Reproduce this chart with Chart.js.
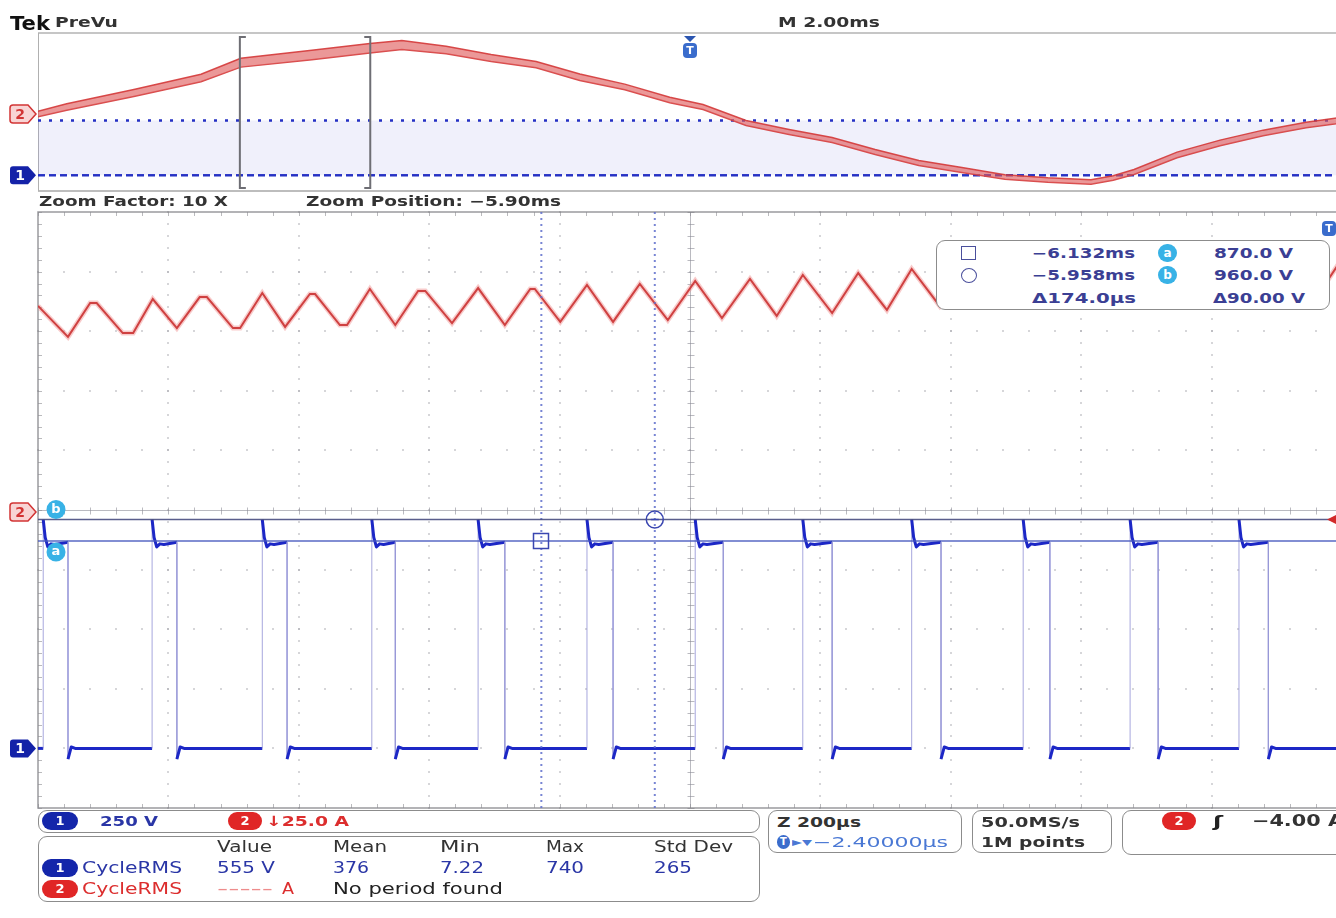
<!DOCTYPE html>
<html>
<head>
<meta charset="utf-8">
<title>Tek PreVu</title>
<script src="https://cdn.jsdelivr.net/npm/chart.js@4.4.1/dist/chart.umd.min.js"></script>
<style>
html,body{margin:0;padding:0;background:#fff;}
body{width:1336px;height:918px;overflow:hidden;position:relative;font-family:"DejaVu Sans",sans-serif;}
canvas{position:absolute;left:0;}
#ov{top:0;}
#zm{top:205px;}
.t{position:absolute;white-space:nowrap;transform-origin:0 50%;line-height:1;}
.box{position:absolute;border:1.5px solid #8c8c8c;border-radius:9px;background:#fff;box-sizing:border-box;}
.pill{position:absolute;color:#fff;font-weight:bold;font-family:"DejaVu Sans";text-align:center;box-sizing:border-box;}
</style>
</head>
<body>
<canvas id="ov" width="1350" height="196"></canvas>
<canvas id="zm" width="1350" height="610"></canvas>
<script>
// ---------------- scope settings ----------------
const OVERVIEW_RANGE_MS = [-10, 10];          // M 2.00ms/div, 10 div
const ZOOM_RANGE_MS = [-6.904, -4.904];       // Z 200us/div, zoom position -5.90ms
const CH1_VOLTS_PER_DIV = 250, CH1_POSITION_DIV = -4.0;
const CH2_AMPS_PER_DIV = 25,  CH2_POSITION_DIV = 0.0;
const TRIG_LEVEL_A = -4.00;

// ---------------- overview (ch2 current, 20 ms record) ----------------
const ovTimeMs   = [-10.00,-9.56,-8.53,-7.50,-6.89,-5.80,-4.91,-4.42,-3.74,-3.05,-2.36,-1.69,-1.00,-0.31,0.20,0.86,1.52,2.18,2.84,3.51,4.17,4.83,5.49,6.15,6.49,6.81,7.47,8.13,8.79,9.45,10.00];
const ovCurrentA = [-3.2,7.9,30.1,53.8,78.0,90.2,101.0,106.0,98.1,85.4,75.0,55.0,39.6,19.0,7.9,-17.4,-31.6,-44.3,-63.3,-80.7,-91.8,-102.8,-107.6,-110.7,-104.4,-94.9,-68.0,-49.0,-33.2,-20.6,-12.7];
const ovRippleA  = [9,10,11,12,14,15,15,14,12,11,10,10,9,9,8,8,8,8,8,8,8,7,7,7,7,8,9,9,9,9,9];
// ch1 levels (V)
const ch1HighV = 865, ch1LowV = 0;

// ---------------- zoom window ----------------
const ch2ZoomMs = [-6.904,-6.858,-6.824,-6.814,-6.774,-6.758,-6.728,-6.691,-6.656,-6.645,-6.605,-6.594,-6.560,-6.525,-6.487,-6.479,-6.441,-6.430,-6.395,-6.356,-6.321,-6.310,-6.269,-6.229,-6.188,-6.149,-6.142,-6.103,-6.062,-6.022,-5.981,-5.938,-5.896,-5.855,-5.812,-5.771,-5.731,-5.686,-5.646,-5.602,-5.564,-5.521,-5.481,-5.438,-5.398,-5.355,-5.314,-5.271,-5.231,-5.188,-5.146,-5.103,-5.064,-5.021,-4.981,-4.938,-4.898];
const ch2ZoomA  = [85.6,72.6,86.8,86.8,74.2,74.2,88.5,76.3,89.3,89.3,76.3,76.3,91.0,76.8,90.6,90.6,77.6,77.6,92.7,77.6,91.9,91.9,78.4,93.1,77.6,92.7,92.7,78.9,94.4,78.9,94.8,79.7,96.1,80.5,96.9,81.4,98.6,82.6,99.4,83.9,101.1,85.6,101.9,86.4,102.8,87.2,103.6,88.1,104.4,88.9,105.3,89.8,106.1,90.6,107.0,91.4,107.8];
const ch1RiseMs = [-6.896,-6.729,-6.560,-6.392,-6.229,-6.062,-5.896,-5.731,-5.564,-5.393,-5.229,-5.062];
const ch1FallMs = [-6.858,-6.691,-6.522,-6.356,-6.188,-6.022,-5.853,-5.686,-5.519,-5.352,-5.186,-5.017];
const ch1HighShapeDt = [0, 0.003, 0.007, 0.012, 0.018];
const ch1HighShapeV  = [960, 885, 845, 858, 855];
const ch1LowShapeDt  = [0, 0.005, 0.011];
const ch1LowShapeV   = [-45, 6, 0];
// cursors
const cursorTimeMs = [-6.132, -5.958];
const cursorVolts  = [870, 960];

// ---------------- derived axis ranges ----------------
const ch1Min = (-5 - CH1_POSITION_DIV) * CH1_VOLTS_PER_DIV, ch1Max = (5 - CH1_POSITION_DIV) * CH1_VOLTS_PER_DIV;
const ch2Min = (-5 - CH2_POSITION_DIV) * CH2_AMPS_PER_DIV,  ch2Max = (5 - CH2_POSITION_DIV) * CH2_AMPS_PER_DIV;

const BLUE = '#1c27c6', BLUE_EDGE = 'rgba(150,150,215,0.85)';
const RED = 'rgba(206,58,58,0.95)', RED_HALO = 'rgba(240,140,140,0.45)';

function buildCh1() {
  const pts = [{x: ZOOM_RANGE_MS[0], y: ch1LowV}];
  const ev = ch1RiseMs.map(t => ({t, r: true})).concat(ch1FallMs.map(t => ({t, r: false}))).sort((a, b) => a.t - b.t);
  let level = ch1LowV;
  ev.forEach(e => {
    pts.push({x: e.t, y: level});
    const dt = e.r ? ch1HighShapeDt : ch1LowShapeDt, v = e.r ? ch1HighShapeV : ch1LowShapeV;
    dt.forEach((d, i) => pts.push({x: e.t + d, y: v[i]}));
    level = e.r ? ch1HighV : ch1LowV;
  });
  pts.push({x: ZOOM_RANGE_MS[1], y: level});
  return pts;
}

// ---------------- drawing helpers ----------------
function chMarker(ctx, x, y, label, fill, stroke, textColor) {
  const w = 26, h = 18, r = 3;
  ctx.save();
  ctx.beginPath();
  ctx.moveTo(x + r, y - h / 2); ctx.lineTo(x + w - 8, y - h / 2); ctx.lineTo(x + w, y);
  ctx.lineTo(x + w - 8, y + h / 2); ctx.lineTo(x + r, y + h / 2);
  ctx.quadraticCurveTo(x, y + h / 2, x, y + h / 2 - r); ctx.lineTo(x, y - h / 2 + r);
  ctx.quadraticCurveTo(x, y - h / 2, x + r, y - h / 2); ctx.closePath();
  ctx.fillStyle = fill; ctx.fill();
  if (stroke) { ctx.strokeStyle = stroke; ctx.lineWidth = 1.5; ctx.stroke(); }
  ctx.fillStyle = textColor; ctx.font = 'bold 14px "DejaVu Sans"';
  ctx.textAlign = 'center'; ctx.textBaseline = 'middle';
  ctx.fillText(label, x + 10, y + 1);
  ctx.restore();
}
function tMarker(ctx, x, y, arrow) {
  ctx.save();
  if (arrow) {
    ctx.fillStyle = '#2a55b0';
    ctx.beginPath(); ctx.moveTo(x - 6, y); ctx.lineTo(x + 6, y); ctx.lineTo(x, y + 6); ctx.fill();
    y += 7;
  }
  ctx.fillStyle = '#3a6ccc';
  ctx.beginPath();
  if (ctx.roundRect) ctx.roundRect(x - 7, y, 14, 15, 4); else ctx.rect(x - 7, y, 14, 15);
  ctx.fill();
  ctx.fillStyle = '#fff'; ctx.font = 'bold 11px "DejaVu Sans"';
  ctx.textAlign = 'center'; ctx.textBaseline = 'middle';
  ctx.fillText('T', x, y + 8);
  ctx.restore();
}
function cursorLabel(ctx, x, y, s) {
  ctx.save();
  ctx.fillStyle = '#38b2e6';
  ctx.beginPath(); ctx.arc(x, y, 9.5, 0, Math.PI * 2); ctx.fill();
  ctx.fillStyle = '#fff'; ctx.font = 'bold 13px "DejaVu Sans"';
  ctx.textAlign = 'center'; ctx.textBaseline = 'middle';
  ctx.fillText(s, x, y);
  ctx.restore();
}

// ---------------- overview chart ----------------
const ovPlugin = {
  id: 'ovdeco',
  beforeDatasetsDraw(chart) {
    const {ctx, chartArea: a} = chart;
    ctx.save();
    ctx.strokeStyle = '#c6c6c6'; ctx.lineWidth = 2;
    ctx.beginPath(); ctx.moveTo(a.left, a.top); ctx.lineTo(1350, a.top); ctx.stroke();
    ctx.strokeStyle = '#bdbdbd';
    ctx.beginPath(); ctx.moveTo(a.left, a.bottom); ctx.lineTo(1350, a.bottom); ctx.stroke();
    ctx.strokeStyle = '#b0b0b0'; ctx.lineWidth = 1;
    ctx.beginPath(); ctx.moveTo(a.left + 0.5, a.top); ctx.lineTo(a.left + 0.5, a.bottom); ctx.stroke();
    ctx.restore();
  },
  afterDatasetsDraw(chart) {
    const {ctx, chartArea: a, scales} = chart;
    const xl = scales.x.getPixelForValue(ZOOM_RANGE_MS[0]);
    const xr = scales.x.getPixelForValue(ZOOM_RANGE_MS[1]);
    ctx.save();
    ctx.strokeStyle = '#6e6e74'; ctx.lineWidth = 2;
    ctx.beginPath();
    ctx.moveTo(xl + 6, a.top + 4); ctx.lineTo(xl, a.top + 4); ctx.lineTo(xl, a.bottom - 3); ctx.lineTo(xl + 6, a.bottom - 3);
    ctx.moveTo(xr - 6, a.top + 4); ctx.lineTo(xr, a.top + 4); ctx.lineTo(xr, a.bottom - 3); ctx.lineTo(xr - 6, a.bottom - 3);
    ctx.stroke();
    ctx.restore();
  },
  afterDraw(chart) {
    const {ctx, chartArea: a, scales} = chart;
    chMarker(ctx, 10, scales.y2.getPixelForValue(0) + 2, '2', '#f8d4d4', '#d23434', '#d23434');
    chMarker(ctx, 10, scales.y1.getPixelForValue(0), '1', '#1422a8', null, '#fff');
    tMarker(ctx, scales.x.getPixelForValue(0), a.top + 3, true);
  }
};

new Chart(document.getElementById('ov'), {
  type: 'line',
  data: {
    datasets: [
      { data: ovTimeMs.map((t, i) => ({x: t, y: ovCurrentA[i] + ovRippleA[i] / 2})), yAxisID: 'y2',
        borderColor: 'rgba(212,56,56,0.9)', borderWidth: 1.5, fill: '+1', backgroundColor: 'rgba(222,88,88,0.62)' },
      { data: ovTimeMs.map((t, i) => ({x: t, y: ovCurrentA[i] - ovRippleA[i] / 2})), yAxisID: 'y2',
        borderColor: 'rgba(212,56,56,0.9)', borderWidth: 1.5, fill: false },
      { data: OVERVIEW_RANGE_MS.map(t => ({x: t, y: ch1HighV})), yAxisID: 'y1',
        borderColor: '#2430c4', borderWidth: 2.5, borderDash: [3, 8], fill: '+1', backgroundColor: 'rgba(140,140,225,0.13)' },
      { data: OVERVIEW_RANGE_MS.map(t => ({x: t, y: ch1LowV})), yAxisID: 'y1',
        borderColor: '#2430c4', borderWidth: 2.5, borderDash: [7, 4], fill: false }
    ]
  },
  options: {
    responsive: false, animation: false, devicePixelRatio: 1,
    layout: {padding: {left: 38, right: 8, top: 33, bottom: 5}},
    elements: {point: {radius: 0}, line: {tension: 0}},
    plugins: {legend: {display: false}, tooltip: {enabled: false}},
    scales: {
      x: {type: 'linear', min: OVERVIEW_RANGE_MS[0], max: OVERVIEW_RANGE_MS[1], display: false},
      y1: {type: 'linear', min: ch1Min, max: ch1Max, display: false},
      y2: {type: 'linear', min: ch2Min, max: ch2Max, display: false}
    }
  },
  plugins: [ovPlugin]
});

// ---------------- zoom chart ----------------
const zmPlugin = {
  id: 'zmdeco',
  beforeDatasetsDraw(chart) {
    const {ctx, chartArea: a, scales} = chart;
    const xs = scales.x, ys = scales.y2;
    const X = k => xs.getPixelForValue(xs.min + k * (xs.max - xs.min) / 10);
    const Y = k => ys.getPixelForValue(ys.min + k * (ys.max - ys.min) / 10);
    ctx.save();
    ctx.fillStyle = 'rgba(165,165,170,0.45)';
    for (let k = 1; k < 10; k++) {
      if (k === 5) continue;
      const x = X(k);
      for (let j = 0; j <= 50; j++) ctx.fillRect(Math.round(x) - 1, Math.round(Y(j / 5)) - 1, 2, 2);
      const y = Y(k);
      for (let j = 0; j <= 50; j++) ctx.fillRect(Math.round(X(j / 5)) - 1, Math.round(y) - 1, 2, 2);
    }
    const cx = Math.round(X(5)) + 0.5, cy = Math.round(Y(5)) + 0.5;
    ctx.strokeStyle = 'rgba(140,140,150,0.6)'; ctx.lineWidth = 1;
    ctx.beginPath();
    ctx.moveTo(a.left, cy); ctx.lineTo(a.right, cy);
    ctx.moveTo(cx, a.top); ctx.lineTo(cx, a.bottom);
    for (let j = 0; j <= 50; j++) {
      const x = Math.round(X(j / 5)) + 0.5; ctx.moveTo(x, cy - 3); ctx.lineTo(x, cy + 4);
      const y = Math.round(Y(j / 5)) + 0.5; ctx.moveTo(cx - 3, y); ctx.lineTo(cx + 4, y);
    }
    ctx.stroke();
    // frame with ticks
    ctx.strokeStyle = 'rgba(120,120,125,0.75)'; ctx.lineWidth = 1.5;
    ctx.beginPath();
    ctx.moveTo(1350, a.top); ctx.lineTo(a.left, a.top); ctx.lineTo(a.left, a.bottom); ctx.lineTo(1350, a.bottom);
    ctx.stroke();
    ctx.strokeStyle = 'rgba(140,140,145,0.6)'; ctx.lineWidth = 1;
    ctx.beginPath();
    for (let j = 0; j <= 50; j++) {
      const x = Math.round(X(j / 5)) + 0.5;
      ctx.moveTo(x, a.top); ctx.lineTo(x, a.top + 4);
      ctx.moveTo(x, a.bottom); ctx.lineTo(x, a.bottom - 4);
      const y = Math.round(Y(j / 5)) + 0.5;
      ctx.moveTo(a.left, y); ctx.lineTo(a.left + 4, y);
    }
    ctx.stroke();
    ctx.restore();
  },
  afterDraw(chart) {
    const {ctx, chartArea: a, scales} = chart;
    const xs = scales.x, y1 = scales.y1, y2 = scales.y2;
    chMarker(ctx, 10, y2.getPixelForValue(0) + 2, '2', '#f8d4d4', '#d23434', '#d23434');
    chMarker(ctx, 10, y1.getPixelForValue(0), '1', '#1422a8', null, '#fff');
    cursorLabel(ctx, 56, y1.getPixelForValue(cursorVolts[1]) - 10, 'b');
    cursorLabel(ctx, 56, y1.getPixelForValue(cursorVolts[0]) + 11, 'a');
    // square & circle cursor handles
    ctx.save();
    ctx.strokeStyle = '#3a46b0'; ctx.lineWidth = 1.5;
    const sx = xs.getPixelForValue(cursorTimeMs[0]), sy = y1.getPixelForValue(cursorVolts[0]);
    ctx.strokeRect(Math.round(sx) - 7.5, Math.round(sy) - 7.5, 15, 15);
    const ox = xs.getPixelForValue(cursorTimeMs[1]), oy = y1.getPixelForValue(cursorVolts[1]);
    ctx.beginPath(); ctx.arc(ox, oy, 8.5, 0, Math.PI * 2); ctx.stroke();
    ctx.beginPath(); ctx.moveTo(ox - 4, oy); ctx.lineTo(ox + 4, oy); ctx.stroke();
    ctx.restore();
    tMarker(ctx, a.right - 13, a.top + 9, false);
    // trigger level arrow at right edge
    const ty = y2.getPixelForValue(TRIG_LEVEL_A);
    ctx.save(); ctx.fillStyle = '#d22a2a';
    ctx.beginPath(); ctx.moveTo(1327, ty); ctx.lineTo(1337, ty - 5); ctx.lineTo(1337, ty + 5); ctx.fill();
    ctx.restore();
  }
};

const segStyle = {
  borderColor: c => (c.p0.parsed.x === c.p1.parsed.x ? BLUE_EDGE : BLUE),
  borderWidth: c => (c.p0.parsed.x === c.p1.parsed.x ? 1 : 3)
};

new Chart(document.getElementById('zm'), {
  type: 'line',
  data: {
    datasets: [
      // cursor horizontal bars (a, b)
      { data: ZOOM_RANGE_MS.map(t => ({x: t, y: cursorVolts[0]})), yAxisID: 'y1', borderColor: 'rgba(70,88,190,0.9)', borderWidth: 1.5 },
      { data: ZOOM_RANGE_MS.map(t => ({x: t, y: cursorVolts[1]})), yAxisID: 'y1', borderColor: 'rgba(72,76,128,0.9)', borderWidth: 1.5 },
      // cursor vertical bars
      { data: [{x: cursorTimeMs[0], y: ch1Min}, {x: cursorTimeMs[0], y: ch1Max}], yAxisID: 'y1', borderColor: 'rgba(96,112,205,0.85)', borderWidth: 2, borderDash: [2, 4] },
      { data: [{x: cursorTimeMs[1], y: ch1Min}, {x: cursorTimeMs[1], y: ch1Max}], yAxisID: 'y1', borderColor: 'rgba(96,112,205,0.85)', borderWidth: 2, borderDash: [2, 4] },
      // ch2 current
      { data: ch2ZoomMs.map((t, i) => ({x: t, y: ch2ZoomA[i]})), yAxisID: 'y2', borderColor: RED, borderWidth: 2 },
      { data: ch2ZoomMs.map((t, i) => ({x: t, y: ch2ZoomA[i]})), yAxisID: 'y2', borderColor: RED_HALO, borderWidth: 5 },
      // ch1 voltage
      { data: buildCh1(), yAxisID: 'y1', borderColor: BLUE, borderWidth: 3, segment: segStyle, borderJoinStyle: 'round' }
    ]
  },
  options: {
    responsive: false, animation: false, devicePixelRatio: 1,
    layout: {padding: {left: 38, right: 8, top: 7, bottom: 7}},
    elements: {point: {radius: 0}, line: {tension: 0}},
    plugins: {legend: {display: false}, tooltip: {enabled: false}},
    scales: {
      x: {type: 'linear', min: ZOOM_RANGE_MS[0], max: ZOOM_RANGE_MS[1], display: false},
      y1: {type: 'linear', min: ch1Min, max: ch1Max, display: false},
      y2: {type: 'linear', min: ch2Min, max: ch2Max, display: false}
    }
  },
  plugins: [zmPlugin]
});

// ---------------- readouts (HTML text) ----------------
const meas = document.createElement('canvas').getContext('2d');
function addText(s, left, cy, width, size, weight, color) {
  const font = `${weight} ${size}px "DejaVu Sans"`;
  meas.font = font;
  const nat = meas.measureText(s).width;
  const d = document.createElement('div');
  d.className = 't'; d.textContent = s;
  d.style.font = font; d.style.lineHeight = '1'; d.style.color = color;
  d.style.left = left + 'px'; d.style.top = (cy - size * 0.48) + 'px';
  if (width) d.style.transform = `scaleX(${(width / nat).toFixed(3)})`;
  document.body.appendChild(d);
}
function addBox(l, t, w, h, extra) {
  const d = document.createElement('div'); d.className = 'box';
  Object.assign(d.style, {left: l + 'px', top: t + 'px', width: w + 'px', height: h + 'px'}, extra || {});
  document.body.appendChild(d);
}
function addPill(s, l, cy, w, h, bg, fs) {
  const d = document.createElement('div'); d.className = 'pill'; d.textContent = s;
  Object.assign(d.style, {left: l + 'px', top: (cy - h / 2) + 'px', width: w + 'px', height: h + 'px',
    lineHeight: h + 'px', background: bg, borderRadius: (h / 2) + 'px', fontSize: (fs || 13) + 'px'});
  document.body.appendChild(d);
}

const DARK = '#333', CBLUE = '#2a36a6', CRED = '#dc2e2e', CUR = '#3b3f94';

// header
addText('Tek', 10, 23, 40, 19, 'bold', '#111');
addText('PreVu', 55, 22, 63, 14, 'bold', DARK);
addText('M 2.00ms', 778, 22, 102, 14, 'bold', DARK);
addText('Zoom Factor: 10 X', 39, 201, 189, 14, 'bold', DARK);
addText('Zoom Position: ' + (((ZOOM_RANGE_MS[0] + ZOOM_RANGE_MS[1]) / 2).toFixed(2).replace('-', '\u2212')) + 'ms', 306, 201, 255, 14, 'bold', DARK);

// cursor readout box
addBox(936, 240, 394, 70);
(function () {
  const sq = document.createElement('div');
  Object.assign(sq.style, {position: 'absolute', left: '961px', top: '246px', width: '15px', height: '14px', border: '1.5px solid #4a4f9c', boxSizing: 'border-box'});
  document.body.appendChild(sq);
  const ci = document.createElement('div');
  Object.assign(ci.style, {position: 'absolute', left: '961px', top: '268px', width: '16px', height: '15px', border: '1.5px solid #4a4f9c', borderRadius: '50%', boxSizing: 'border-box'});
  document.body.appendChild(ci);
})();
const fmtMs = v => v.toFixed(3).replace('-', '\u2212') + 'ms';
addText(fmtMs(cursorTimeMs[0]), 1032, 253, 103, 14, 'bold', CUR);
addText(fmtMs(cursorTimeMs[1]), 1032, 275, 103, 14, 'bold', CUR);
addText('\u0394' + ((cursorTimeMs[1] - cursorTimeMs[0]) * 1000).toFixed(1) + '\u00b5s', 1032, 298, 104, 14, 'bold', CUR);
addPill('a', 1158, 253, 19, 18, '#38b2e6', 12);
addPill('b', 1158, 275, 19, 18, '#38b2e6', 12);
addText(cursorVolts[0].toFixed(1) + ' V', 1214, 253, 79, 14, 'bold', CUR);
addText(cursorVolts[1].toFixed(1) + ' V', 1214, 275, 79, 14, 'bold', CUR);
addText('\u0394' + (cursorVolts[1] - cursorVolts[0]).toFixed(2) + ' V', 1213, 298, 92, 14, 'bold', CUR);

// channel bar
addBox(38, 810, 722, 23);
addPill('1', 42, 821, 36, 18, '#1426aa');
addText(CH1_VOLTS_PER_DIV + ' V', 100, 821, 58, 14, 'bold', CBLUE);
addPill('2', 228, 821, 34, 18, '#e02626');
addText('\u2193' + CH2_AMPS_PER_DIV.toFixed(1) + ' A', 266, 821, 83, 14, 'bold', CRED);

// measurement box
addBox(38, 836, 722, 66);
[['Value', 217, 55], ['Mean', 333, 54], ['Min', 440, 40], ['Max', 546, 38], ['Std Dev', 654, 79]]
  .forEach(h => addText(h[0], h[1], 847, h[2], 15, 'normal', DARK));
addPill('1', 42, 868, 36, 18, '#1426aa');
addText('CycleRMS', 82, 868, 100, 15, 'normal', CBLUE);
[['555 V', 217, 58], ['376', 333, 36], ['7.22', 440, 44], ['740', 546, 38], ['265', 654, 38]]
  .forEach(v => addText(v[0], v[1], 868, v[2], 15, 'normal', CBLUE));
addPill('2', 42, 889, 36, 18, '#e02626');
addText('CycleRMS', 82, 889, 100, 15, 'normal', CRED);
addText('-----', 217, 889, 56, 15, 'normal', '#ee8c8c');
addText('A', 282, 889, 12, 15, 'normal', CRED);
addText('No period found', 333, 889, 170, 15, 'normal', '#222');

// timebase box
addBox(768, 810, 194, 43);
addText('Z 200\u00b5s', 777, 822, 84, 14, 'bold', DARK);
addPill('T', 777, 842, 13, 14, '#3a6ccc', 10);
addText('\u25b8\u25be', 792, 842, 20, 12, 'normal', '#4a78d4');
addText('\u22122.40000\u00b5s', 813, 842, 135, 14, 'normal', '#4a78d4');

// acquisition box
addBox(972, 810, 140, 43);
addText('50.0MS/s', 981, 822, 99, 14, 'bold', DARK);
addText('1M points', 981, 842, 104, 14, 'bold', DARK);

// trigger box
addBox(1122, 810, 240, 45);
addPill('2', 1162, 821, 34, 18, '#e02626');
addText('\u0283', 1213, 822, 10, 16, 'bold', '#222');
addText(TRIG_LEVEL_A.toFixed(2).replace('-', '\u2212') + ' A', 1252, 821, 92, 15, 'bold', DARK);
</script>
</body>
</html>
